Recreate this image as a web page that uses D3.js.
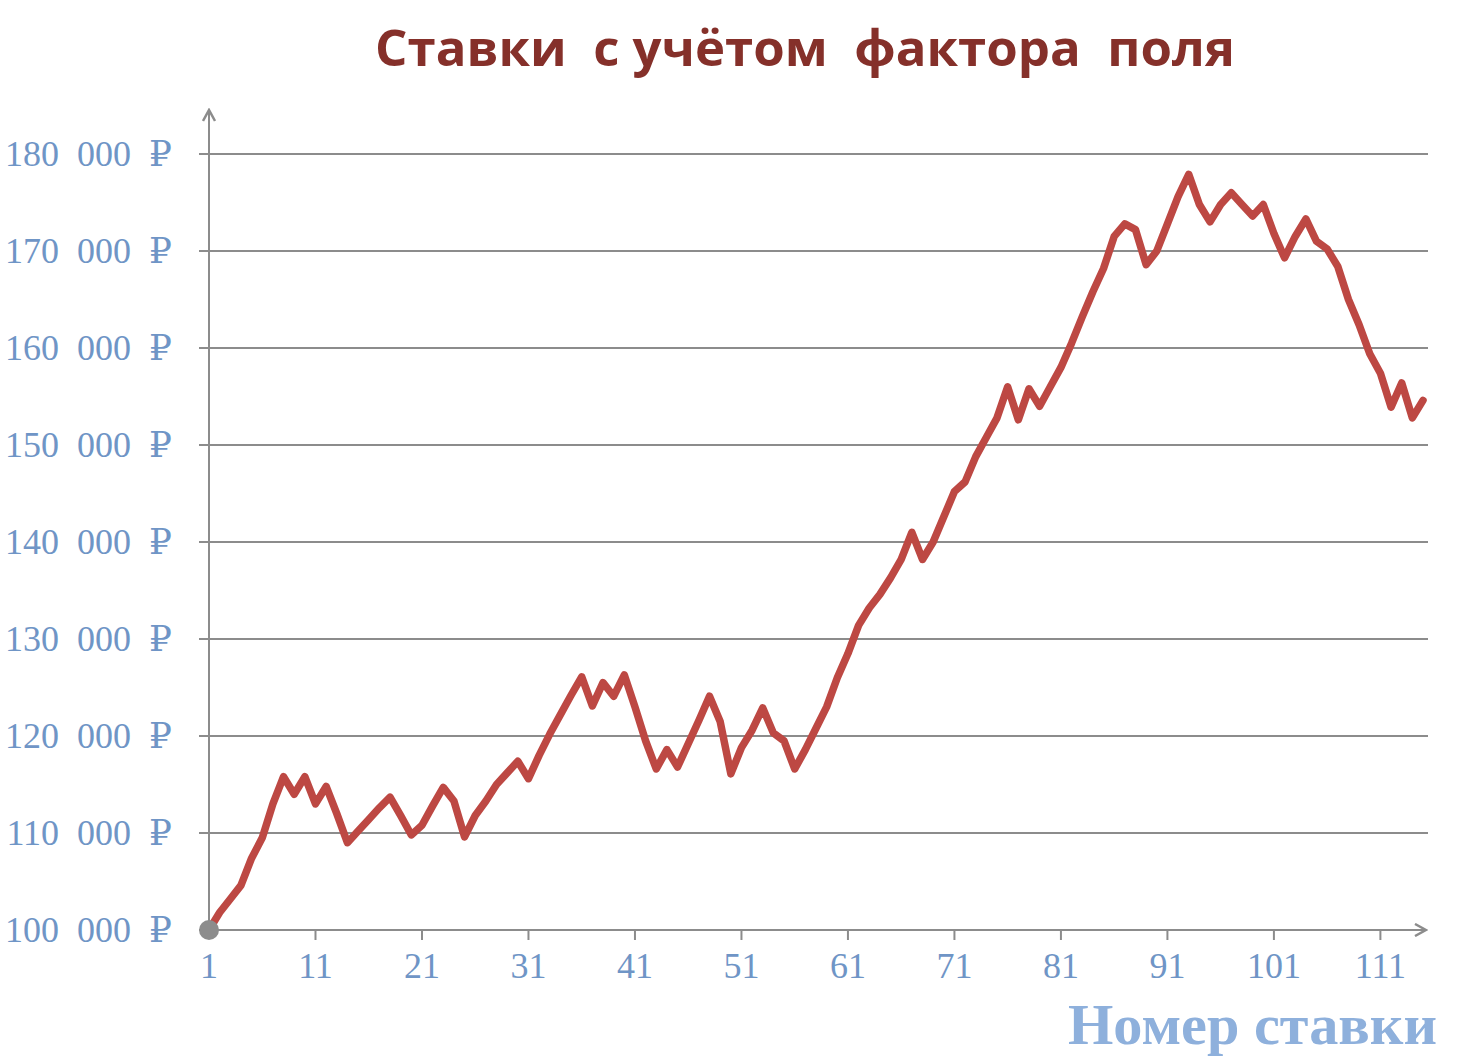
<!DOCTYPE html>
<html><head><meta charset="utf-8">
<script src="https://cdn.jsdelivr.net/npm/d3@7"></script>
<style>body{margin:0;background:#fff}svg{display:block}</style>
</head><body>
<svg id="c" width="1460" height="1062"></svg>
<script>
const title = "Ставки  с учётом  фактора  поля";
const xAxisTitle = "Номер ставки";
const xTicks = [1, 11, 21, 31, 41, 51, 61, 71, 81, 91, 101, 111];
const yTicks = [100000, 110000, 120000, 130000, 140000, 150000, 160000, 170000, 180000];
const betNumbers = d3.range(1, 116);
const bankroll = [
 100.0,101.8,103.2,104.6,107.4,109.5,113.0,115.8,114.0,115.8,
 113.0,114.8,112.0,109.0,110.2,111.4,112.6,113.7,111.8,109.8,
 110.8,112.8,114.7,113.3,109.6,111.8,113.3,115.0,116.2,117.4,
 115.6,118.0,120.2,122.2,124.2,126.1,123.1,125.5,124.1,126.3,
 123.0,119.5,116.6,118.6,116.8,119.2,121.6,124.1,121.5,116.1,
 118.8,120.6,122.9,120.3,119.5,116.6,118.6,120.8,123.0,126.0,
 128.5,131.4,133.2,134.6,136.3,138.2,141.0,138.2,140.0,142.6,
 145.2,146.2,148.8,150.8,152.8,156.0,152.6,155.8,154.0,156.0,
 158.0,160.5,163.2,165.8,168.2,171.5,172.8,172.2,168.6,170.0,
 172.8,175.6,177.9,174.8,173.0,174.8,176.0,174.8,173.6,174.8,
 171.8,169.3,171.5,173.3,171.0,170.2,168.4,165.0,162.4,159.4,
 157.4,153.9,156.4,152.8,154.6
].map(v => v * 1000);

const svg = d3.select("#c");
const x = d3.scaleLinear().domain([1, 115]).range([209, 1423]);
const y = d3.scaleLinear().domain([100000, 180000]).range([930, 154]);
const grey = "#8c8c8c";

svg.append("defs").append("marker").attr("id","arr").attr("viewBox","0 0 14 14")
  .attr("refX",12).attr("refY",7).attr("markerWidth",14).attr("markerHeight",14)
  .attr("markerUnits","userSpaceOnUse").attr("orient","auto")
  .append("path").attr("d","M1,1 L12,7 L1,13").attr("fill","none").attr("stroke",grey).attr("stroke-width",2.5);

// grid
svg.append("g").selectAll("line").data(yTicks.slice(1)).join("line")
  .attr("x1", 199).attr("x2", 1428).attr("y1", d => y(d)).attr("y2", d => y(d))
  .attr("stroke", grey).attr("stroke-width", 2);
svg.append("line").attr("x1",199).attr("x2",209).attr("y1",y(100000)).attr("y2",y(100000)).attr("stroke",grey).attr("stroke-width",2);

// axes
svg.append("line").attr("x1", 209).attr("y1", 930).attr("x2", 209).attr("y2", 110)
  .attr("stroke", grey).attr("stroke-width", 2).attr("marker-end","url(#arr)");
svg.append("line").attr("x1", 209).attr("y1", 930).attr("x2", 1426).attr("y2", 930)
  .attr("stroke", grey).attr("stroke-width", 2).attr("marker-end","url(#arr)");
svg.append("g").selectAll("line").data(xTicks.slice(1)).join("line")
  .attr("x1", d => x(d)).attr("x2", d => x(d)).attr("y1", 930).attr("y2", 940)
  .attr("stroke", grey).attr("stroke-width", 2);

const fmt = v => d3.format(",")(v).replace(/,/g, " ") + " ₽";
svg.append("g").selectAll("text").data(yTicks).join("text")
  .attr("x", 172).attr("y", d => y(d) + 12).attr("text-anchor","end")
  .attr("font-family","'Liberation Serif','DejaVu Serif',serif").attr("font-size",36)
  .attr("fill","#6f95c6").style("white-space","pre")
  .text(d => fmt(d).replace(/ /g, "  "));
svg.append("g").selectAll("text").data(xTicks).join("text")
  .attr("x", d => x(d)).attr("y", 978).attr("text-anchor","middle")
  .attr("font-family","'Liberation Serif','DejaVu Serif',serif").attr("font-size",36)
  .attr("fill","#6f95c6").text(d => d);

// line
svg.append("path").datum(betNumbers)
  .attr("d", d3.line().x(d => x(d)).y((d, i) => y(bankroll[i])))
  .attr("fill","none").attr("stroke","#bd4843").attr("stroke-width",7.5)
  .attr("stroke-linejoin","round").attr("stroke-linecap","round");
svg.append("circle").attr("cx", x(1)).attr("cy", y(bankroll[0])).attr("r", 10).attr("fill", grey);

// titles
svg.append("text").attr("x", 375).attr("y", 66)
  .attr("font-family","'Open Sans','Noto Sans',sans-serif").attr("font-weight","bold").attr("font-size",50)
  .attr("fill","#85302a").style("white-space","pre")
  .attr("textLength", 860).attr("lengthAdjust","spacingAndGlyphs").text(title);
svg.append("text").attr("x", 1068).attr("y", 1044)
  .attr("font-family","'Liberation Serif','DejaVu Serif',serif").attr("font-weight","bold").attr("font-size",58)
  .attr("fill","#8eb0dc").attr("textLength", 369).attr("lengthAdjust","spacingAndGlyphs").text(xAxisTitle);
</script>
</body></html>
